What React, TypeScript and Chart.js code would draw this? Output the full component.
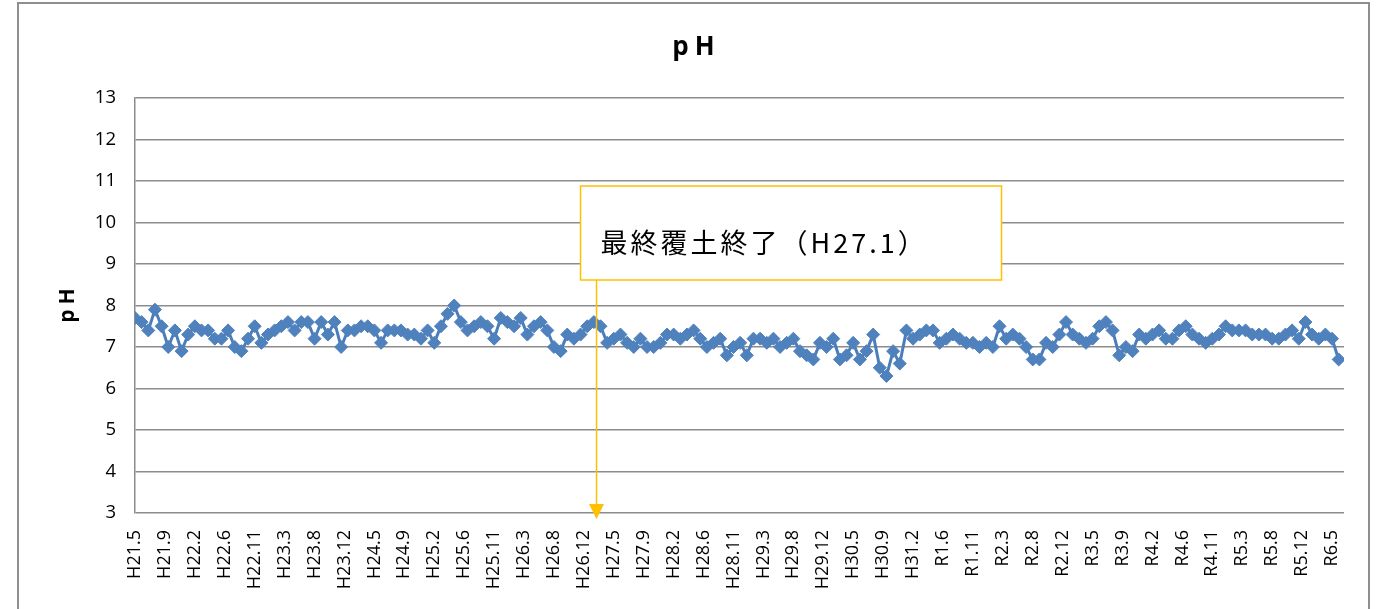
import React, { useEffect, useRef } from 'react';
import { Chart, registerables } from 'chart.js';

Chart.register(...registerables);

// Monthly sampling months (Heisei / Reiwa era notation)
const MONTH_LABELS: string[] = [
  'H21.5', 'H21.6', 'H21.7', 'H21.8', 'H21.9', 'H21.10', 'H21.11', 'H21.12',
  'H22.1', 'H22.2', 'H22.3', 'H22.4', 'H22.5', 'H22.6', 'H22.7', 'H22.8', 'H22.9', 'H22.10', 'H22.11', 'H22.12',
  'H23.1', 'H23.2', 'H23.3', 'H23.4', 'H23.5', 'H23.6', 'H23.7', 'H23.8', 'H23.9', 'H23.10', 'H23.11', 'H23.12',
  'H24.1', 'H24.2', 'H24.3', 'H24.4', 'H24.5', 'H24.6', 'H24.7', 'H24.8', 'H24.9', 'H24.10', 'H24.11', 'H24.12',
  'H25.1', 'H25.2', 'H25.3', 'H25.4', 'H25.5', 'H25.6', 'H25.7', 'H25.8', 'H25.9', 'H25.10', 'H25.11', 'H25.12',
  'H26.1', 'H26.2', 'H26.3', 'H26.4', 'H26.5', 'H26.6', 'H26.7', 'H26.8', 'H26.9', 'H26.10', 'H26.11', 'H26.12',
  'H27.1', 'H27.2', 'H27.3', 'H27.4', 'H27.5', 'H27.6', 'H27.7', 'H27.8', 'H27.9', 'H27.10', 'H27.11', 'H27.12',
  'H28.1', 'H28.2', 'H28.3', 'H28.4', 'H28.5', 'H28.6', 'H28.7', 'H28.8', 'H28.9', 'H28.10', 'H28.11', 'H28.12',
  'H29.1', 'H29.2', 'H29.3', 'H29.4', 'H29.5', 'H29.6', 'H29.7', 'H29.8', 'H29.9', 'H29.10', 'H29.11', 'H29.12',
  'H30.1', 'H30.2', 'H30.3', 'H30.4', 'H30.5', 'H30.6', 'H30.7', 'H30.8', 'H30.9', 'H30.10', 'H30.11', 'H30.12',
  'H31.1', 'H31.2', 'H31.3', 'H31.4',
  'R1.5', 'R1.6', 'R1.7', 'R1.8', 'R1.9', 'R1.10', 'R1.11', 'R1.12',
  'R2.1', 'R2.2', 'R2.3', 'R2.4', 'R2.5', 'R2.6', 'R2.7', 'R2.8', 'R2.9', 'R2.10', 'R2.11', 'R2.12',
  'R3.1', 'R3.2', 'R3.3', 'R3.4', 'R3.5', 'R3.6', 'R3.7', 'R3.8', 'R3.9', 'R3.10', 'R3.11', 'R3.12',
  'R4.1', 'R4.2', 'R4.3', 'R4.4', 'R4.5', 'R4.6', 'R4.7', 'R4.8', 'R4.9', 'R4.10', 'R4.11', 'R4.12',
  'R5.1', 'R5.2', 'R5.3', 'R5.4', 'R5.5', 'R5.6', 'R5.7', 'R5.8', 'R5.9', 'R5.10', 'R5.11', 'R5.12',
  'R6.1', 'R6.2', 'R6.3', 'R6.4', 'R6.5', 'R6.6',
];

// pH value per month
const PH_VALUES: number[] = [
  7.7, 7.6, 7.4, 7.9, 7.5, 7.0, 7.4, 6.9, 7.3, 7.5,
  7.4, 7.4, 7.2, 7.2, 7.4, 7.0, 6.9, 7.2, 7.5, 7.1,
  7.3, 7.4, 7.5, 7.6, 7.4, 7.6, 7.6, 7.2, 7.6, 7.3,
  7.6, 7.0, 7.4, 7.4, 7.5, 7.5, 7.4, 7.1, 7.4, 7.4,
  7.4, 7.3, 7.3, 7.2, 7.4, 7.1, 7.5, 7.8, 8.0, 7.6,
  7.4, 7.5, 7.6, 7.5, 7.2, 7.7, 7.6, 7.5, 7.7, 7.3,
  7.5, 7.6, 7.4, 7.0, 6.9, 7.3, 7.2, 7.3, 7.5, 7.6,
  7.5, 7.1, 7.2, 7.3, 7.1, 7.0, 7.2, 7.0, 7.0, 7.1,
  7.3, 7.3, 7.2, 7.3, 7.4, 7.2, 7.0, 7.1, 7.2, 6.8,
  7.0, 7.1, 6.8, 7.2, 7.2, 7.1, 7.2, 7.0, 7.1, 7.2,
  6.9, 6.8, 6.7, 7.1, 7.0, 7.2, 6.7, 6.8, 7.1, 6.7,
  6.9, 7.3, 6.5, 6.3, 6.9, 6.6, 7.4, 7.2, 7.3, 7.4,
  7.4, 7.1, 7.2, 7.3, 7.2, 7.1, 7.1, 7.0, 7.1, 7.0,
  7.5, 7.2, 7.3, 7.2, 7.0, 6.7, 6.7, 7.1, 7.0, 7.3,
  7.6, 7.3, 7.2, 7.1, 7.2, 7.5, 7.6, 7.4, 6.8, 7.0,
  6.9, 7.3, 7.2, 7.3, 7.4, 7.2, 7.2, 7.4, 7.5, 7.3,
  7.2, 7.1, 7.2, 7.3, 7.5, 7.4, 7.4, 7.4, 7.3, 7.3,
  7.3, 7.2, 7.2, 7.3, 7.4, 7.2, 7.6, 7.3, 7.2, 7.3,
  7.2, 6.7,
];

// Axis labels shown on the date axis (one every 4.5 months)
const TICK_LABELS: string[] = [
  'H21.5', 'H21.9', 'H22.2', 'H22.6', 'H22.11', 'H23.3', 'H23.8', 'H23.12', 'H24.5', 'H24.9',
  'H25.2', 'H25.6', 'H25.11', 'H26.3', 'H26.8', 'H26.12', 'H27.5', 'H27.9', 'H28.2', 'H28.6',
  'H28.11', 'H29.3', 'H29.8', 'H29.12', 'H30.5', 'H30.9', 'H31.2', 'R1.6', 'R1.11', 'R2.3',
  'R2.8', 'R2.12', 'R3.5', 'R3.9', 'R4.2', 'R4.6', 'R4.11', 'R5.3', 'R5.8', 'R5.12',
  'R6.5',
];

const TICK_STEP_MONTHS = 4.5;
const AXIS_END_MONTH = 181.8;
const Y_MIN = 3;
const Y_MAX = 13;
const Y_STEP = 1;

const CHART_TITLE = 'pH';
const Y_TITLE = 'pH';
const ANNOTATION_TEXT = '最終覆土終了（H27.1）';
const ANNOTATION_MONTH = 69.4;

const FONT = "'Open Sans', 'Noto Sans CJK JP', sans-serif";
const GRID = '#8c8c8c';
const GOLD = '#FFC000';
const FRAME_LEFT = 18;
const FRAME_RIGHT = 1369;

const textPlugin = {
  id: 'titlesAndAnnotation',
  afterDraw(chart: any) {
    const { ctx, chartArea } = chart;
    ctx.save();
    ctx.fillStyle = '#000000';
    ctx.textAlign = 'center';
    ctx.textBaseline = 'middle';
    try { (ctx as any).letterSpacing = '6px'; } catch (e) { /* ignore */ }
    ctx.font = `bold 26px ${FONT}`;
    ctx.fillText(CHART_TITLE, (FRAME_LEFT + FRAME_RIGHT) / 2 + 3, 48);
    // y-axis title
    ctx.translate(68, (chartArea.top + chartArea.bottom) / 2);
    ctx.rotate(-Math.PI / 2);
    try { (ctx as any).letterSpacing = '5px'; } catch (e) { /* ignore */ }
    ctx.font = `bold 21px ${FONT}`;
    ctx.fillText(Y_TITLE, 2.5, 0);
    ctx.restore();
  },
  afterDatasetsDraw(chart: any) {
    const { ctx, chartArea, scales } = chart;
    const x = scales.x.getPixelForValue(ANNOTATION_MONTH);
    const boxL = x - 16;
    const boxR = x + 405;
    const boxT = chartArea.top + 88;
    const boxB = chartArea.top + 182;
    ctx.save();
    ctx.strokeStyle = GOLD;
    ctx.lineWidth = 1.5;
    ctx.beginPath();
    ctx.moveTo(x, boxB);
    ctx.lineTo(x, chartArea.bottom - 8);
    ctx.stroke();
    ctx.fillStyle = GOLD;
    ctx.beginPath();
    ctx.moveTo(x - 7.5, chartArea.bottom - 9);
    ctx.lineTo(x + 7.5, chartArea.bottom - 9);
    ctx.lineTo(x, chartArea.bottom + 6);
    ctx.closePath();
    ctx.fill();
    ctx.fillStyle = '#ffffff';
    ctx.fillRect(boxL, boxT, boxR - boxL, boxB - boxT);
    ctx.strokeRect(boxL, boxT, boxR - boxL, boxB - boxT);
    ctx.fillStyle = '#000000';
    ctx.font = "27px 'Noto Sans CJK JP', sans-serif";
    ctx.textBaseline = 'middle';
    ctx.textAlign = 'left';
    try { (ctx as any).letterSpacing = '3px'; } catch (e) { /* ignore */ }
    ctx.fillText(ANNOTATION_TEXT, boxL + 20, boxT + 57);
    ctx.restore();
  },
};

export default function App() {
  const ref = useRef<HTMLCanvasElement>(null);

  useEffect(() => {
    if (!ref.current) return;
    const chart = new Chart(ref.current, {
      type: 'line',
      data: {
        labels: MONTH_LABELS,
        datasets: [
          {
            label: 'pH',
            data: PH_VALUES.map((v, i) => ({ x: i, y: v })),
            borderColor: '#4A7EBB',
            borderWidth: 3,
            pointStyle: 'rectRot',
            pointRadius: 6.5,
            pointBackgroundColor: '#4F81BD',
            pointBorderColor: '#4F81BD',
            pointBorderWidth: 1,
            tension: 0,
          },
        ],
      },
      options: {
        responsive: false,
        animation: false,
        layout: { padding: { left: 18, right: 36, top: 98, bottom: 0 } },
        plugins: {
          legend: { display: false },
          tooltip: { enabled: false },
          title: { display: false },
        },
        scales: {
          x: {
            type: 'linear',
            min: 0,
            max: AXIS_END_MONTH,
            afterBuildTicks: (s: any) => {
              s.ticks = TICK_LABELS.map((_, k) => ({ value: k * TICK_STEP_MONTHS }));
            },
            afterFit: (s: any) => {
              s.height = 96;
            },
            grid: { display: false, drawTicks: false },
            border: { display: false },
            ticks: {
              autoSkip: false,
              maxRotation: 90,
              minRotation: 90,
              padding: 17,
              color: '#000',
              font: { family: FONT, size: 18 },
              callback: (_v: any, i: number) => TICK_LABELS[i],
            },
          },
          y: {
            min: Y_MIN,
            max: Y_MAX,
            afterFit: (s: any) => {
              s.width = 117;
            },
            ticks: {
              stepSize: Y_STEP,
              padding: 19,
              color: '#000',
              font: { family: FONT, size: 18.5 },
            },
            grid: { color: GRID, lineWidth: 1.5, drawTicks: false },
            border: { display: true, color: GRID, width: 1.5 },
            title: { display: false },
          },
        },
      },
      plugins: [textPlugin],
    } as any);
    return () => chart.destroy();
  }, []);

  return (
    <div
      style={{
        position: 'absolute',
        left: 0,
        top: 0,
        width: 1380,
        height: 609,
        overflow: 'hidden',
        background: '#ffffff',
      }}
    >
      <div
        style={{
          position: 'absolute',
          left: 17,
          top: 2,
          width: 1353,
          height: 700,
          border: '2px solid #8f8f8f',
          boxSizing: 'border-box',
        }}
      />
      <canvas
        ref={ref}
        width={1380}
        height={609}
        style={{ position: 'absolute', left: 0, top: 0, width: 1380, height: 609 }}
      />
    </div>
  );
}
